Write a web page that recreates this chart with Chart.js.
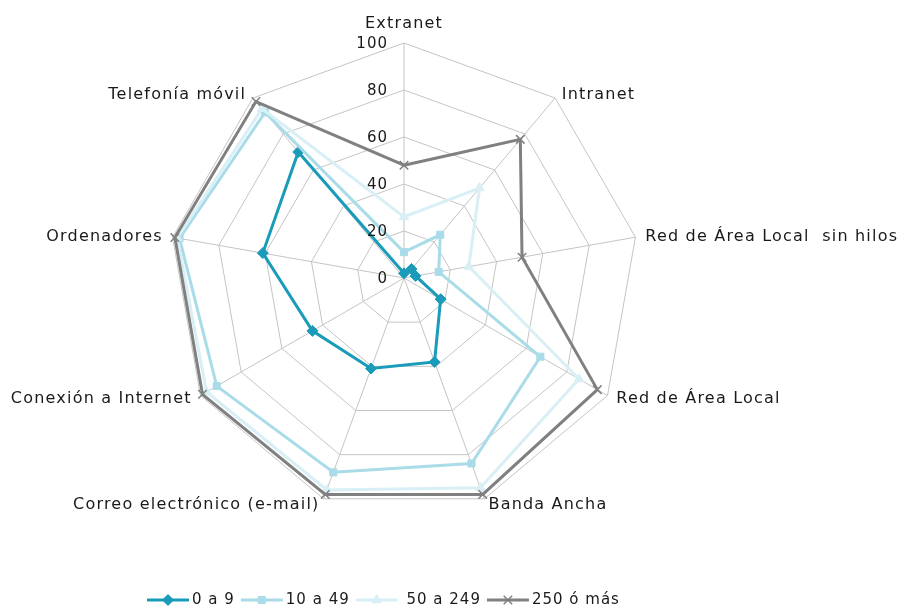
<!DOCTYPE html>
<html>
<head>
<meta charset="utf-8">
<script src="https://cdn.jsdelivr.net/npm/chart.js@4/dist/chart.umd.min.js"></script>
<style>
  html, body { margin: 0; padding: 0; background: #ffffff; }
  #wrap { width: 897px; height: 607px; position: relative; }
</style>
</head>
<body>
<div id="wrap"><canvas id="c" width="897" height="607"></canvas></div>
<script>
const categories = ['Extranet', 'Intranet', 'Red de Área Local  sin hilos', 'Red de Área Local', 'Banda Ancha', 'Correo electrónico (e-mail)', 'Conexión a Internet', 'Ordenadores', 'Telefonía móvil'];
const seriesNames = ['0 a 9', '10 a 49', ' 50 a 249', '250 ó más'];
const s0a9 = [2, 5, 5, 18, 38, 41, 45, 61, 70];
const s10a49 = [11, 24, 15, 67, 84, 88, 92, 97, 92];
const s50a249 = [26, 50, 28, 86, 95, 96, 97, 98, 94];
const s250 = [48, 77, 51, 95, 98, 98, 99, 99, 98];
const tickValues = [0, 20, 40, 60, 80, 100];

const colors = ['#1a9bb9', '#a9dce8', '#d8eff5', '#808080'];
const pointStyles = ['rectRot', 'rect', 'triangle', 'crossRot'];
const FONT = '15px "DejaVu Sans", Verdana, sans-serif';
const LABEL_FONT = '16px "DejaVu Sans", Verdana, sans-serif';
const TEXT = '#1a1a1a';

function ds(i, data) {
  const isCross = pointStyles[i] === 'crossRot';
  return {
    label: seriesNames[i],
    data: data,
    borderColor: colors[i],
    backgroundColor: colors[i],
    pointBackgroundColor: colors[i],
    pointBorderColor: colors[i],
    borderWidth: 3,
    pointStyle: pointStyles[i],
    pointRadius: isCross ? 6 : (pointStyles[i] === 'rect' ? 5 : 5.5),
    pointBorderWidth: isCross ? 1.5 : 1,
    fill: false,
    tension: 0,
    clip: false,
    order: 3 - i
  };
}

const labelPlugin = {
  id: 'customLabels',
  afterDraw(chart) {
    const ctx = chart.ctx;
    const scale = chart.scales.r;
    const R = scale.drawingArea;
    const cx = scale.xCenter, cy = scale.yCenter;
    ctx.save();
    ctx.font = FONT;
    ctx.fillStyle = TEXT;
    try { ctx.letterSpacing = '1px'; } catch (e) {}
    // tick labels
    ctx.textAlign = 'right';
    ctx.textBaseline = 'middle';
    tickValues.forEach(v => {
      const d = scale.getDistanceFromCenterForValue(v);
      ctx.fillText(String(v), cx - 16, cy - d + 1);
    });
    // point labels
    ctx.font = LABEL_FONT;
    try { ctx.letterSpacing = '1.2px'; } catch (e) {}
    categories.forEach((lab, i) => {
      const a = scale.getIndexAngle(i);
      const s = Math.sin(a), c = Math.cos(a);
      const p = scale.getPointPosition(i, R);
      if (Math.abs(s) < 0.05) {
        ctx.textAlign = 'center';
        ctx.textBaseline = c > 0 ? 'alphabetic' : 'top';
        ctx.fillText(lab, p.x, c > 0 ? p.y - 15 : p.y + 10);
      } else {
        ctx.textAlign = s > 0 ? 'left' : 'right';
        ctx.textBaseline = 'middle';
        const dx = s * 9 + (s > 0 ? 1 : -1) * 1;
        ctx.fillText(lab, p.x + dx, p.y - c * 5 + 1);
      }
    });
    // legend
    ctx.font = FONT;
    try { ctx.letterSpacing = '1px'; } catch (e) {}
    let x = 147;
    const y = 600;
    ctx.textAlign = 'left';
    ctx.textBaseline = 'middle';
    chart.data.datasets.forEach((d, i) => {
      ctx.strokeStyle = d.borderColor;
      ctx.lineWidth = 3;
      ctx.beginPath();
      ctx.moveTo(x, y);
      ctx.lineTo(x + 42, y);
      ctx.stroke();
      ctx.save();
      ctx.fillStyle = d.pointBackgroundColor;
      ctx.strokeStyle = d.pointBorderColor;
      ctx.lineWidth = d.pointBorderWidth;
      if (Chart.helpers && Chart.helpers.drawPoint) {
        Chart.helpers.drawPoint(ctx, {
          pointStyle: d.pointStyle,
          radius: d.pointRadius,
          borderWidth: d.pointBorderWidth,
          rotation: 0
        }, x + 21, y);
      }
      ctx.restore();
      ctx.fillStyle = TEXT;
      ctx.fillText(d.label, x + 45, y);
      x += 45 + ctx.measureText(d.label).width + 6;
    });
    ctx.restore();
  }
};

new Chart(document.getElementById('c'), {
  type: 'radar',
  data: {
    labels: categories,
    datasets: [ds(0, s0a9), ds(1, s10a49), ds(2, s50a249), ds(3, s250)]
  },
  options: {
    responsive: false,
    animation: false,
    devicePixelRatio: 1,
    layout: { padding: { left: 169, right: 258, top: 43, bottom: 94 } },
    plugins: { legend: { display: false }, tooltip: { enabled: false } },
    scales: {
      r: {
        min: 0,
        max: 100,
        ticks: { display: false, stepSize: 20 },
        pointLabels: { display: false },
        grid: { color: '#c4c4c4', lineWidth: 1 },
        angleLines: { color: '#c4c4c4', lineWidth: 1 }
      }
    }
  },
  plugins: [labelPlugin]
});
</script>
</body>
</html>
